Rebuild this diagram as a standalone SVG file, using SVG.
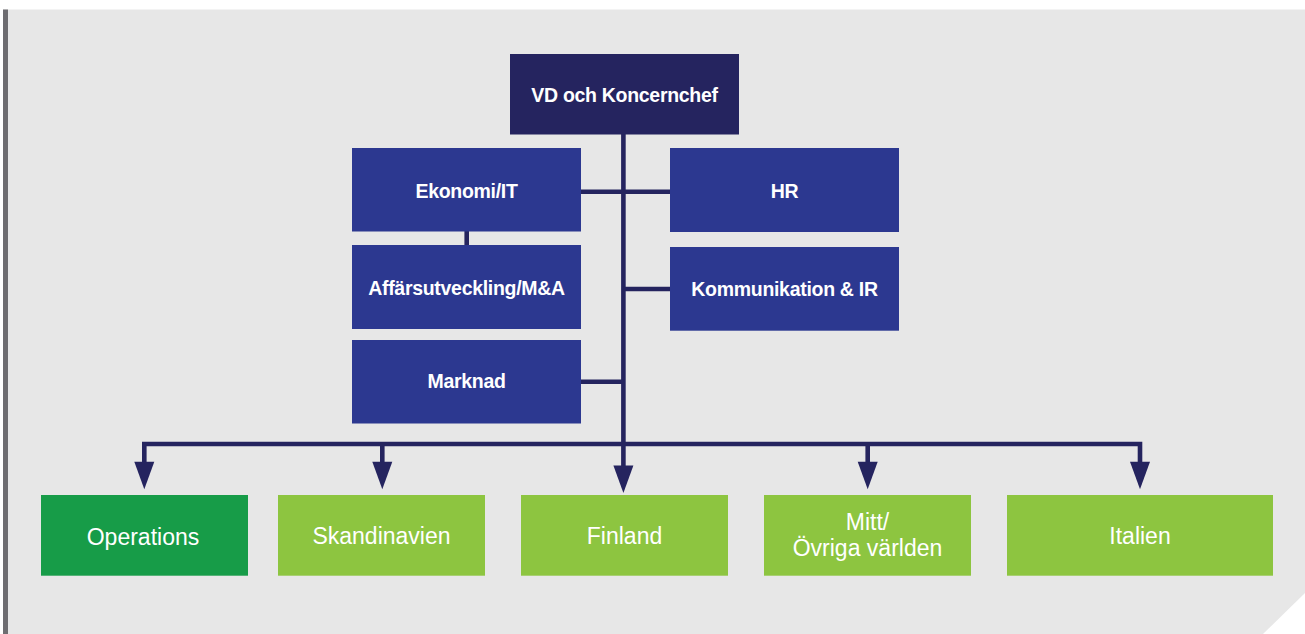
<svg xmlns="http://www.w3.org/2000/svg" xmlns:xlink="http://www.w3.org/1999/xlink" width="1305" height="634" viewBox="0 0 1305 634">
  <style>
    .bg { fill: #E7E7E7; }
    .bar { fill: #6E6D71; }
    .top { fill: #25245F; }
    .staff { fill: #2C3890; }
    .opg { fill: #179C48; }
    .reg { fill: #8DC540; }
    .lt { font-family: "Liberation Sans", Arial, Helvetica, sans-serif; font-weight: bold; font-size: 19.5px; letter-spacing: -0.3px; fill: #FFFFFF; text-anchor: middle; }
    .rt { font-family: "Liberation Sans", Arial, Helvetica, sans-serif; font-weight: normal; font-size: 23px; fill: #FFFFFF; text-anchor: middle; }
    .conn { stroke: #25245F; stroke-width: 4.6; fill: none; stroke-linecap: butt; stroke-linejoin: miter; }
    .head { fill: #25245F; }
  </style>
  <defs>
    <polygon id="arrowhead" class="head" points="-10,0 10,0 0,27.5"/>
  </defs>

  <rect x="0" y="0" width="1305" height="634" fill="#FFFFFF"/>
  <polygon class="bg" points="3,9.5 1305,9.5 1305,593 1263,634 3,634"/>
  <rect class="bar" x="3" y="9.5" width="5" height="624.5"/>

  <g id="connectors">
    <path class="conn" d="M623.4,134 V466"/>
    <path class="conn" d="M581,191.7 H670"/>
    <path class="conn" d="M466.7,231 V245"/>
    <path class="conn" d="M623.4,289 H670"/>
    <path class="conn" d="M581,381.7 H623.4"/>
    <path class="conn" d="M144.3,462 V444 H1140 V462"/>
    <path class="conn" d="M382.3,444 V462"/>
    <path class="conn" d="M867.7,444 V462"/>
    <use xlink:href="#arrowhead" x="144.3" y="461.8"/>
    <use xlink:href="#arrowhead" x="382.3" y="461.8"/>
    <use xlink:href="#arrowhead" x="623.4" y="465.5"/>
    <use xlink:href="#arrowhead" x="867.7" y="461.8"/>
    <use xlink:href="#arrowhead" x="1140" y="461.8"/>
  </g>

  <g id="node-vd">
    <rect class="top" x="510" y="54" width="229" height="80.5"/>
    <text class="lt" x="624.5" y="102">VD och Koncernchef</text>
  </g>
  <g id="node-ekonomi">
    <rect class="staff" x="352" y="148" width="229" height="83.5"/>
    <text class="lt" x="466.5" y="198.3">Ekonomi/IT</text>
  </g>
  <g id="node-affar">
    <rect class="staff" x="352" y="245" width="229" height="84"/>
    <text class="lt" x="466.5" y="295">Affärsutveckling/M&amp;A</text>
  </g>
  <g id="node-marknad">
    <rect class="staff" x="352" y="340" width="229" height="83.5"/>
    <text class="lt" x="466.5" y="388.3">Marknad</text>
  </g>
  <g id="node-hr">
    <rect class="staff" x="670" y="148" width="229" height="84"/>
    <text class="lt" x="784.5" y="198.3">HR</text>
  </g>
  <g id="node-kommunikation">
    <rect class="staff" x="670" y="247" width="229" height="83.7"/>
    <text class="lt" x="784.5" y="296">Kommunikation &amp; IR</text>
  </g>

  <g id="node-operations">
    <rect class="opg" x="41" y="495" width="207" height="80.7"/>
    <text class="rt" x="143" y="545">Operations</text>
  </g>
  <g id="node-skandinavien">
    <rect class="reg" x="278" y="495" width="207" height="80.7"/>
    <text class="rt" x="381.5" y="543.5">Skandinavien</text>
  </g>
  <g id="node-finland">
    <rect class="reg" x="521" y="495" width="207" height="80.7"/>
    <text class="rt" x="624.5" y="543.5">Finland</text>
  </g>
  <g id="node-mitt">
    <rect class="reg" x="764" y="495" width="207" height="80.7"/>
    <text class="rt" x="867.5" y="530">Mitt/</text>
    <text class="rt" x="867.5" y="556">Övriga världen</text>
  </g>
  <g id="node-italien">
    <rect class="reg" x="1007" y="495" width="266" height="80.7"/>
    <text class="rt" x="1140" y="544.3">Italien</text>
  </g>
</svg>
